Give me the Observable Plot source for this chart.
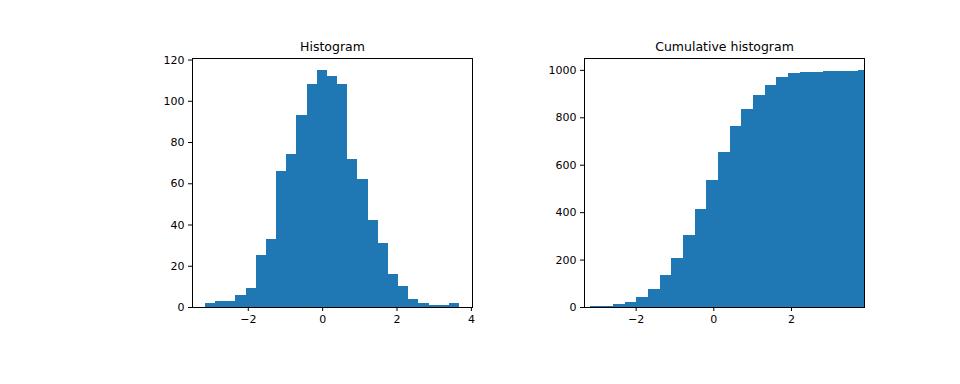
<!DOCTYPE html>
<html><head><meta charset="utf-8">
<script src="https://cdn.jsdelivr.net/npm/d3@7"></script>
<script src="https://cdn.jsdelivr.net/npm/@observablehq/plot@0.6"></script>
<style>
html,body{margin:0;padding:0;background:#fff;}
#wrap{display:flex;width:960px;height:384px;}
#wrap svg{display:block;}
</style></head><body><div id="wrap"></div>
<script>
// Left panel: histogram (bin edges and counts)
const histEdges = [-3.16, -2.89, -2.61, -2.34, -2.06, -1.79, -1.52, -1.24, -0.97, -0.69, -0.42, -0.15, 0.13, 0.40, 0.68, 0.95, 1.22, 1.50, 1.77, 2.05, 2.32, 2.59, 2.87, 3.14, 3.42, 3.69];
const histCounts = [2, 3, 3, 6, 9, 25, 33, 66, 74, 93, 108, 115, 112, 108, 72, 62, 42, 31, 16, 10, 4, 2, 1, 1, 2];
const histXTicks = [-2, 0, 2, 4];
const histYTicks = [0, 20, 40, 60, 80, 100, 120];

// Right panel: cumulative histogram
const cumEdges = [-3.18, -2.88, -2.58, -2.28, -1.98, -1.68, -1.38, -1.08, -0.78, -0.48, -0.18, 0.12, 0.42, 0.72, 1.02, 1.32, 1.62, 1.92, 2.22, 2.52, 2.82, 3.12, 3.42, 3.72, 4.02];
const cumCounts = [4, 5, 13, 21, 42, 76, 135, 206, 303, 412, 534, 652, 762, 837, 896, 938, 968, 985, 989, 993, 997, 997, 997, 1000];
const cumXTicks = [-2, 0, 2];
const cumYTicks = [0, 200, 400, 600, 800, 1000];

const titles = ["Histogram", "Cumulative histogram"];

function rows(edges, counts) {
  return counts.map((c, i) => ({x1: edges[i], x2: edges[i + 1], y: c}));
}

function panel({title, data, xDomain, yDomain, xTicks, yTicks, marginLeft, marginRight}) {
  return Plot.plot({
    width: 480, height: 384,
    marginLeft, marginRight, marginTop: 58, marginBottom: 77,
    style: {fontFamily: "DejaVu Sans", fontSize: "11px", color: "black", background: "white", overflow: "visible"},
    x: {domain: xDomain, ticks: xTicks, tickSize: 4, tickPadding: 4, label: null},
    y: {domain: yDomain, ticks: yTicks, tickSize: 4, tickPadding: 4, label: null, tickFormat: d => String(d)},
    marks: [
      Plot.rect(data, {x1: "x1", x2: "x2", y1: 0, y2: "y", fill: "#1f77b4", inset: 0, clip: true, shapeRendering: "crispEdges"}),
      Plot.frame({stroke: "black"}),
      Plot.text([title], {frameAnchor: "top", dy: -12, text: d => d, fontSize: 12.5, lineAnchor: "middle"})
    ]
  });
}

const wrap = document.getElementById("wrap");
wrap.appendChild(panel({
  title: titles[0], data: rows(histEdges, histCounts),
  xDomain: [-3.50, 4.03], yDomain: [0, 120.75],
  xTicks: histXTicks, yTicks: histYTicks, marginLeft: 192, marginRight: 8
}));
wrap.appendChild(panel({
  title: titles[1], data: rows(cumEdges, cumCounts),
  xDomain: [-3.33, 3.88], yDomain: [0, 1050],
  xTicks: cumXTicks, yTicks: cumYTicks, marginLeft: 104, marginRight: 96
}));
</script></body></html>
